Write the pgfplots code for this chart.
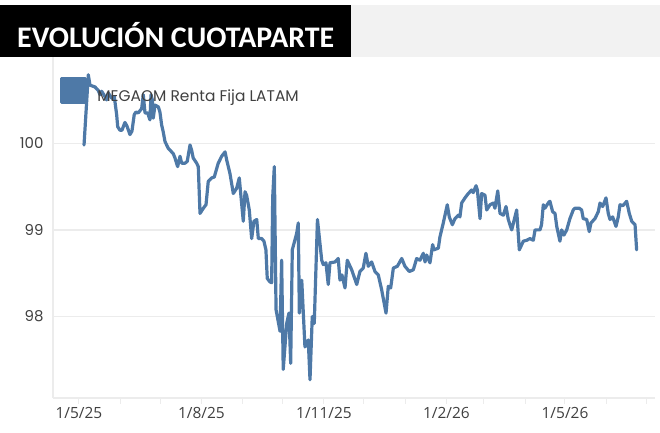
\documentclass[border=0pt]{standalone}
\usepackage{fontspec}
\setmainfont{Poppins}
\newfontfamily\osans{Open Sans}
\newfontfamily\carlito{Carlito}
\usepackage{pgfplots}
\usepackage{pgfplotstable}
\pgfplotsset{compat=1.18}
\definecolor{lineblue}{RGB}{78,121,167}
\definecolor{gridgray}{RGB}{236,236,236}
\definecolor{txtgray}{RGB}{64,64,64}
\definecolor{bargray}{RGB}{242,242,242}
% x = days since 1 May 2025
\pgfplotstableread{
x y
3.8 99.98
7.0 100.79
8.3 100.67
12.0 100.65
14.5 100.61
15.8 100.56
17.0 100.60
19.5 100.54
20.8 100.50
22.0 100.58
24.6 100.52
26.5 100.54
28.3 100.33
29.1 100.19
30.8 100.15
32.3 100.15
34.5 100.24
36.0 100.20
38.3 100.10
39.8 100.14
41.5 100.33
42.8 100.36
44.5 100.35
47.1 100.40
48.3 100.56
49.6 100.35
51.6 100.35
53.3 100.27
54.1 100.56
55.1 100.50
55.8 100.29
57.1 100.44
59.6 100.42
60.8 100.36
62.1 100.21
63.3 100.13
64.6 100.02
67.1 99.94
69.6 99.90
70.8 99.88
72.1 99.83
74.1 99.73
75.9 99.85
77.1 99.77
79.6 99.77
81.3 99.79
83.4 99.98
84.6 99.92
85.8 99.83
88.4 99.77
89.6 99.73
90.9 99.19
93.4 99.25
95.4 99.29
97.1 99.56
99.7 99.60
101.6 99.61
104.6 99.77
107.2 99.85
109.7 99.90
110.9 99.81
113.4 99.65
115.9 99.42
118.4 99.48
120.4 99.60
121.7 99.38
123.4 99.10
124.7 99.44
125.9 99.40
127.9 99.23
129.7 98.90
131.4 99.10
133.5 99.12
134.7 98.90
137.2 98.90
138.9 98.87
140.4 98.77
141.4 98.44
143.4 98.40
144.7 98.39
145.5 99.38
146.7 99.73
148.0 98.08
151.0 97.83
152.2 98.65
153.4 97.39
156.0 97.92
157.7 98.04
159.0 97.46
160.2 98.77
163.5 98.96
164.7 99.08
165.5 98.04
167.3 98.42
169.7 97.65
172.2 97.73
173.5 97.27
175.2 98.00
176.7 97.92
179.1 99.12
182.3 98.65
183.5 98.60
185.5 98.62
187.2 98.37
188.5 98.62
192.3 98.63
194.7 98.67
196.0 98.42
197.5 98.48
199.8 98.33
201.5 98.65
204.8 98.54
208.6 98.37
211.0 98.52
213.5 98.56
215.5 98.73
217.3 98.58
219.8 98.63
222.3 98.52
224.8 98.48
227.3 98.31
230.6 98.04
232.3 98.35
234.1 98.33
236.1 98.56
239.1 98.58
242.4 98.67
244.8 98.58
248.1 98.52
251.1 98.54
253.6 98.67
256.1 98.65
258.6 98.73
259.9 98.63
261.1 98.71
263.6 98.62
265.6 98.83
266.6 98.77
269.9 98.79
271.1 98.92
273.6 99.08
276.6 99.29
278.1 99.15
280.4 99.06
282.4 99.13
284.9 99.17
286.1 99.15
287.4 99.31
289.9 99.37
292.4 99.42
294.9 99.46
296.1 99.43
298.2 99.51
299.2 99.46
301.2 99.13
302.4 99.42
304.9 99.40
306.2 99.23
308.7 99.29
311.2 99.31
312.4 99.25
314.5 99.45
316.2 99.19
318.7 99.17
320.7 99.27
322.4 99.12
325.0 99.00
327.4 99.15
328.7 99.23
330.7 98.77
333.7 98.87
336.2 98.88
338.7 98.90
341.2 98.88
342.5 99.00
346.2 99.00
347.4 99.06
348.7 99.29
349.9 99.25
352.4 99.31
353.7 99.33
355.7 99.21
357.5 99.19
358.8 99.04
361.2 98.87
362.5 99.00
364.2 98.94
366.3 99.00
368.7 99.13
371.2 99.23
372.5 99.25
375.7 99.25
377.5 99.23
378.7 99.13
381.3 99.12
383.2 98.98
384.5 99.08
387.5 99.13
390.0 99.21
391.3 99.31
393.3 99.27
395.8 99.37
397.5 99.19
398.8 99.12
400.8 99.15
403.3 99.04
405.0 99.15
406.3 99.29
408.5 99.28
411.3 99.33
413.3 99.19
415.1 99.10
417.6 99.06
418.8 98.77
}\cuota
\begin{document}
\begin{tikzpicture}
\path[use as bounding box] (0bp,0bp) rectangle (660bp,433bp);
\begin{axis}[
  at={(53bp,35bp)}, anchor=south west,
  scale only axis, width=602bp, height=341.4bp,
  xmin=-19.5, xmax=432.6, ymin=97.06, ymax=101.0,
  axis lines=left,
  axis line style={draw=gridgray, line width=1.5bp, -},
  xtick={0,31,61,92,123,153,184,214,245,276,304,335,365,396,426},
  xticklabels={1/5/25,{},{},1/8/25,{},{},1/11/25,{},{},1/2/26,{},{},1/5/26,{},{}},
  ytick={98,99,100},
  ymajorgrids,
  grid style={draw=gridgray, line width=1.4bp},
  tick align=outside,
  major tick length=6bp,
  xtick style={draw=gridgray, line width=1bp},
  ytick style={draw=none},
  /pgf/number format/assume math mode=true,
  xticklabel style={font=\osans\fontsize{15.5}{17}\selectfont, text=txtgray},
  yticklabel style={font=\fontsize{15}{17}\selectfont, text=txtgray},
  legend style={at={(axis description cs:0.0116,0.94)}, anchor=north west,
    draw=none, fill=none, inner sep=0pt,
    font=\fontsize{15.5}{17}\selectfont, text=txtgray,
    /tikz/every odd column/.append style={column sep=8bp}},
  legend image code/.code={\fill[lineblue] (0bp,-7bp) rectangle (24bp,17bp);},
  clip=false,
]
\addplot[lineblue, line width=3.2bp, line join=round, line cap=round] table {\cuota};
\addlegendentry{MEGAOM Renta Fija LATAM}
\end{axis}
\fill[black] (0bp,376bp) rectangle (351bp,428bp);
\fill[bargray] (351bp,376bp) rectangle (660bp,428bp);
\node[anchor=base west, text=white, inner sep=0pt, font=\carlito\bfseries\fontsize{30}{31}\selectfont] at (17bp,385.5bp) {EVOLUCIÓN CUOTAPARTE};
\end{tikzpicture}
\end{document}
